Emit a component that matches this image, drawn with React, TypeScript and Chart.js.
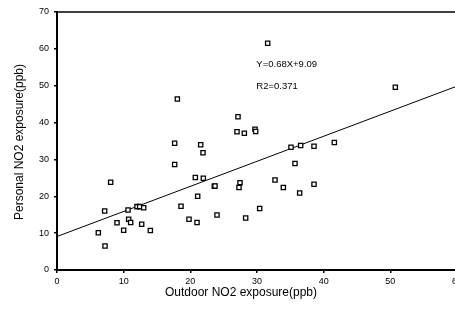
import React, { useEffect, useRef } from "react";
import { Chart, registerables } from "chart.js";

Chart.register(...registerables);

// Outdoor NO2 (ppb) values for each subject
const outdoorX = [
  6.2, 7.2, 7.15, 8.05, 9.0, 10.0, 10.65, 10.75, 11.05, 12.0, 12.4, 13.0, 12.7, 14.0,
  17.65, 17.65, 18.05, 18.6, 19.8, 20.75, 21.0, 21.1, 21.55, 21.9, 21.95, 23.6, 23.7, 24.0,
  27.0, 27.15, 27.3, 27.45, 28.1, 28.3, 29.7, 29.8, 30.4, 31.6, 32.7, 33.95, 35.1, 35.7,
  36.4, 36.55, 38.55, 38.55, 41.6, 50.75,
];
// Personal NO2 (ppb) values for each subject
const personalY = [
  10.1, 6.5, 16.0, 23.8, 12.8, 10.8, 16.3, 13.75, 12.9, 17.2, 17.2, 16.9, 12.4, 10.7,
  34.4, 28.6, 46.4, 17.3, 13.75, 25.1, 12.9, 20.0, 34.0, 31.8, 24.9, 22.7, 22.8, 14.9,
  37.5, 41.6, 22.4, 23.7, 37.1, 14.1, 38.2, 37.6, 16.7, 61.5, 24.4, 22.4, 33.3, 28.9,
  20.9, 33.8, 33.6, 23.25, 34.6, 49.6,
];
// Regression line end points (Y = 0.68X + 9.09)
const fitX = [0, 60];
const fitY = [9.09, 49.89];

const xTicks = [0, 10, 20, 30, 40, 50, 60];
const yTicks = [0, 10, 20, 30, 40, 50, 60, 70];

const xTitle = "Outdoor NO2 exposure(ppb)";
const yTitle = "Personal NO2 exposure(ppb)";
const equationText = "Y=0.68X+9.09";
const r2Text = "R2=0.371";

const FONT = "Arial, 'Liberation Sans', sans-serif";

const decorPlugin = {
  id: "decor",
  afterDraw(chart: any) {
    const { ctx, chartArea } = chart;
    const xs = chart.scales.x;
    const ys = chart.scales.y;
    ctx.save();
    // top frame line
    ctx.strokeStyle = "#000";
    ctx.lineWidth = 1.5;
    ctx.beginPath();
    ctx.moveTo(chartArea.left, chartArea.top);
    ctx.lineTo(chartArea.right, chartArea.top);
    ctx.stroke();
    ctx.fillStyle = "#000";
    // annotation text
    ctx.font = `9.5px ${FONT}`;
    ctx.textAlign = "left";
    ctx.textBaseline = "middle";
    ctx.fillText(equationText, xs.getPixelForValue(29.9), ys.getPixelForValue(55.9));
    ctx.fillText(r2Text, xs.getPixelForValue(29.9), ys.getPixelForValue(49.9));
    // axis titles
    ctx.font = `12px ${FONT}`;
    ctx.textAlign = "center";
    ctx.fillText(xTitle, 241, 293);
    ctx.translate(20, (chartArea.top + chartArea.bottom) / 2 + 1);
    ctx.rotate(-Math.PI / 2);
    ctx.fillText(yTitle, 0, 0);
    ctx.restore();
  },
};

export default function App() {
  const canvasRef = useRef<HTMLCanvasElement>(null);

  useEffect(() => {
    const canvas = canvasRef.current;
    if (!canvas) return;
    const chart = new Chart(canvas, {
      type: "scatter",
      data: {
        datasets: [
          {
            type: "scatter",
            data: outdoorX.map((x, i) => ({ x, y: personalY[i] })),
            pointStyle: "rect",
            pointRadius: 3,
            pointBorderWidth: 1.3,
            pointBorderColor: "#000",
            pointBackgroundColor: "#fff",
          },
          {
            type: "line",
            data: fitX.map((x, i) => ({ x, y: fitY[i] })),
            borderColor: "#000",
            borderWidth: 1,
            pointRadius: 0,
            fill: false,
          },
        ],
      },
      options: {
        responsive: false,
        animation: false,
        devicePixelRatio: 1,
        layout: { padding: { top: 12, right: 23, left: 0, bottom: 0 } },
        plugins: {
          legend: { display: false },
          tooltip: { enabled: false },
          title: { display: false },
        },
        scales: {
          x: {
            type: "linear",
            min: 0,
            max: 60,
            afterBuildTicks: (scale: any) => {
              scale.ticks = xTicks.map((v) => ({ value: v }));
            },
            afterFit: (scale: any) => {
              scale.height = 50;
            },
            grid: {
              drawOnChartArea: false,
              drawTicks: true,
              tickLength: 3,
              color: "#000",
              lineWidth: 1.5,
            },
            border: { display: true, color: "#000", width: 2 },
            ticks: {
              color: "#000",
              font: { family: FONT, size: 9 },
              padding: 3,
              maxRotation: 0,
            },
          },
          y: {
            type: "linear",
            min: 0,
            max: 70,
            afterBuildTicks: (scale: any) => {
              scale.ticks = yTicks.map((v) => ({ value: v }));
            },
            afterFit: (scale: any) => {
              scale.width = 57;
            },
            grid: {
              drawOnChartArea: false,
              drawTicks: true,
              tickLength: 3,
              color: "#000",
              lineWidth: 1.5,
            },
            border: { display: true, color: "#000", width: 2 },
            ticks: {
              color: "#000",
              font: { family: FONT, size: 9 },
              padding: 5,
            },
          },
        },
      },
      plugins: [decorPlugin],
    } as any);
    return () => chart.destroy();
  }, []);

  return (
    <div
      style={{
        position: "fixed",
        left: 0,
        top: 0,
        width: 455,
        height: 320,
        overflow: "hidden",
        background: "#fff",
      }}
    >
      <canvas ref={canvasRef} width={480} height={320} style={{ display: "block" }} />
    </div>
  );
}
